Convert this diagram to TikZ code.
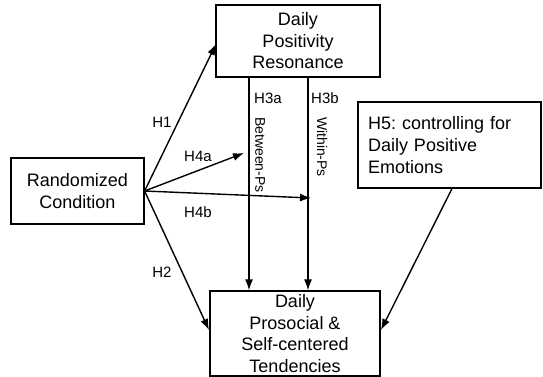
\documentclass[tikz,border=0pt]{standalone}
\usepackage{fontspec}
\setmainfont{Liberation Sans}
\usetikzlibrary{arrows.meta,calc}
\frenchspacing
\begin{document}
\begin{tikzpicture}[x=1pt,y=-1pt,
  box/.style={draw, line width=1.2pt, inner sep=0pt, align=center, font=\fontsize{18}{21.5}\selectfont},
  arr/.style={line width=1.4pt, -{Latex[length=11pt,width=8pt]}},
  lab/.style={font=\fontsize{15}{17}\selectfont, inner sep=0pt},
  rlab/.style={font=\fontsize{14}{16}\selectfont, inner sep=0pt, rotate=-90},
  ]
\useasboundingbox (0,0) rectangle (543,377);
\node[box, minimum width=164pt, minimum height=72pt] (pos) at (298,41) {Daily\\Positivity\\Resonance};
\node[box, minimum width=133pt, minimum height=66pt] (rand) at (77.5,191) {Randomized\\Condition};
\node[box, minimum width=170pt, minimum height=85pt] (out) at (295,333.5) {Daily\\Prosocial \&\\Self-centered\\Tendencies};
\node[box, minimum width=183pt, minimum height=86pt, align=left, text width=163pt, inner xsep=10pt, font=\fontsize{18}{22}\selectfont] (h5) at (449.5,145) {H5: controlling for\\Daily Positive\\Emotions};
\coordinate (h1end) at (216,44);
\coordinate (h4aend) at (244,153);
\coordinate (h4bend) at (311,198);
\coordinate (h2end) at (209,330);
\coordinate (h5end) at (381,330);
\coordinate (ax) at (249,0);
\coordinate (bx) at (308,0);
\coordinate (cx) at (452,0);
\draw[arr] (rand.east) -- (h1end);
\draw[arr] (rand.east) -- (h4aend);
\draw[arr] (rand.east) -- (h4bend);
\draw[arr] (rand.east) -- (h2end);
\draw[arr] (pos.south -| ax) -- (out.north -| ax);
\draw[arr] (pos.south -| bx) -- (out.north -| bx);
\draw[arr] (h5.south -| cx) -- (h5end);
\node[lab] (l1) at (162,122) {H1};
\node[lab] (l4a) at (198,156) {H4a};
\node[lab] (l4b) at (198,212) {H4b};
\node[lab] (l2) at (162,272) {H2};
\node[lab] (l3a) at (268,98) {H3a};
\node[lab] (l3b) at (325,98) {H3b};
\node[rlab] (lb) at (260,155) {Between-Ps};
\node[rlab] (lw) at (322,147) {Within-Ps};
\end{tikzpicture}
\end{document}
